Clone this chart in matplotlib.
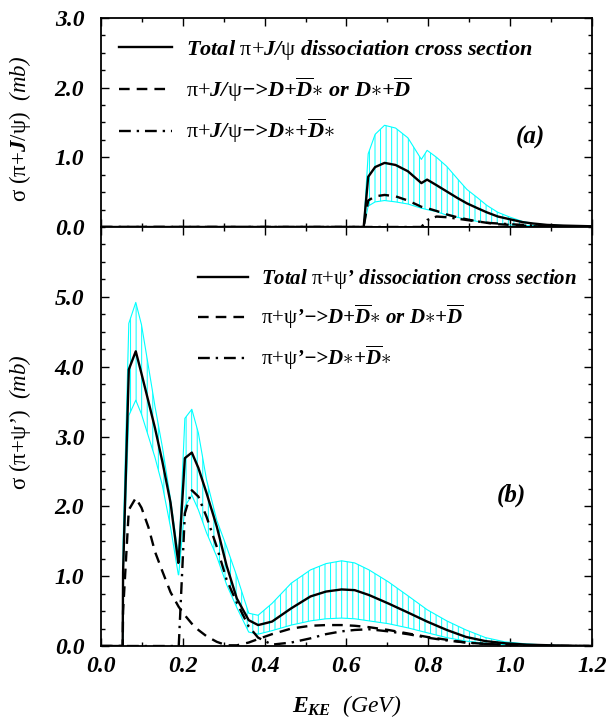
import numpy as np
import matplotlib
matplotlib.use("Agg")
import matplotlib.pyplot as plt
from matplotlib.ticker import MultipleLocator, FixedLocator, NullFormatter

plt.rcParams['font.family'] = ['Liberation Serif', 'DejaVu Serif']
plt.rcParams['font.weight'] = 'bold'
plt.rcParams['font.style'] = 'italic'
plt.rcParams['mathtext.fontset'] = 'custom'
plt.rcParams['mathtext.rm'] = 'Liberation Serif:style=normal:weight=normal'
plt.rcParams['mathtext.it'] = 'Liberation Serif:style=italic:weight=bold'
plt.rcParams['mathtext.bf'] = 'Liberation Serif:style=normal:weight=bold'
plt.rcParams['hatch.linewidth'] = 0.7

CYAN = '#00ffff'

# ---- (a) pi + J/psi ----
x_a = [0.000, 0.642, 0.653, 0.670, 0.693, 0.720, 0.750, 0.783, 0.797, 0.820,
       0.845, 0.870, 0.894, 0.920, 0.943, 0.970, 1.000, 1.030, 1.056, 1.090,
       1.130, 1.200]
total_a = [0.00, 0.00, 0.72, 0.86, 0.92, 0.89, 0.80, 0.63, 0.68, 0.60,
           0.51, 0.42, 0.34, 0.27, 0.21, 0.15, 0.11, 0.07, 0.05, 0.03,
           0.02, 0.01]
upper_a = [0.00, 0.00, 1.05, 1.33, 1.46, 1.42, 1.28, 0.97, 1.10, 1.00,
           0.87, 0.70, 0.54, 0.42, 0.31, 0.21, 0.14, 0.08, 0.05, 0.03,
           0.02, 0.01]
lower_a = [0.00, 0.00, 0.30, 0.36, 0.38, 0.36, 0.33, 0.27, 0.25, 0.22,
           0.17, 0.14, 0.11, 0.08, 0.06, 0.05, 0.03, 0.02, 0.02, 0.01,
           0.01, 0.00]
dd_a = [0.00, 0.00, 0.38, 0.44, 0.46, 0.44, 0.38, 0.29, 0.27, 0.23,
        0.18, 0.14, 0.11, 0.08, 0.06, 0.04, 0.03, 0.02, 0.01, 0.01,
        0.00, 0.00]
dsds_a = [0.00, 0.00, 0.00, 0.00, 0.00, 0.00, 0.00, 0.00, 0.10, 0.15,
          0.14, 0.12, 0.10, 0.08, 0.06, 0.05, 0.04, 0.03, 0.02, 0.01,
          0.01, 0.00]

# ---- (b) pi + psi' ----
x_b = [0.000, 0.053, 0.054, 0.068, 0.085, 0.099, 0.116, 0.132, 0.150, 0.170,
       0.189, 0.190, 0.205, 0.222, 0.238, 0.258, 0.283, 0.307, 0.332, 0.361,
       0.384, 0.418, 0.465, 0.512, 0.550, 0.588, 0.620, 0.655, 0.702, 0.750,
       0.797, 0.845, 0.892, 0.940, 0.987, 1.040, 1.100, 1.200]
total_b = [0.00, 0.00, 1.06, 3.96, 4.22, 3.90, 3.50, 3.12, 2.64, 2.05,
           1.19, 1.25, 2.69, 2.77, 2.55, 2.19, 1.71, 1.15, 0.68, 0.37,
           0.30, 0.35, 0.54, 0.71, 0.78, 0.81, 0.80, 0.73, 0.61, 0.48,
           0.35, 0.23, 0.13, 0.07, 0.04, 0.02, 0.01, 0.00]
upper_b = [0.00, 0.00, 1.49, 4.62, 4.92, 4.60, 4.00, 3.43, 2.85, 2.10,
           1.30, 1.30, 3.26, 3.39, 3.05, 2.38, 1.80, 1.42, 1.00, 0.47,
           0.44, 0.61, 0.90, 1.09, 1.18, 1.22, 1.19, 1.09, 0.92, 0.72,
           0.52, 0.36, 0.23, 0.12, 0.06, 0.03, 0.01, 0.00]
lower_b = [0.00, 0.00, 1.00, 3.30, 3.52, 3.32, 3.00, 2.70, 2.30, 1.70,
           1.02, 1.02, 2.00, 2.16, 1.95, 1.62, 1.28, 0.88, 0.55, 0.20,
           0.17, 0.22, 0.30, 0.36, 0.39, 0.40, 0.39, 0.36, 0.32, 0.26,
           0.19, 0.12, 0.07, 0.04, 0.02, 0.01, 0.00, 0.00]
dd_b = [0.00, 0.00, 0.50, 1.95, 2.12, 1.98, 1.70, 1.35, 1.07, 0.77,
        0.57, 0.56, 0.44, 0.32, 0.23, 0.14, 0.06, 0.01, 0.01, 0.05,
        0.10, 0.17, 0.25, 0.29, 0.30, 0.30, 0.29, 0.27, 0.23, 0.18,
        0.13, 0.09, 0.05, 0.03, 0.02, 0.01, 0.00, 0.00]
dsds_b = [0.00, 0.00, 0.00, 0.00, 0.00, 0.00, 0.00, 0.00, 0.00, 0.00,
          0.00, 0.00, 1.90, 2.23, 2.14, 1.85, 1.42, 0.95, 0.62, 0.28,
          0.12, 0.02, 0.05, 0.11, 0.17, 0.21, 0.23, 0.24, 0.21, 0.17,
          0.12, 0.08, 0.05, 0.03, 0.02, 0.01, 0.00, 0.00]

labels_a = [r"Total $\mathrm{\pi{+}}$J/$\mathrm{\psi}$ dissociation cross section",
            r"$\mathrm{\pi{+}}$J/$\mathrm{\psi}$−>D+$\overline{D}{\ast}$ or D${\ast}$+$\overline{D}$",
            r"$\mathrm{\pi{+}}$J/$\mathrm{\psi}$−>D${\ast}$+$\overline{D}{\ast}$"]
labels_b = [r"Total $\mathrm{\pi{+}\psi}$’ dissociation cross section",
            r"$\mathrm{\pi{+}\psi}$’−>D+$\overline{D}{\ast}$ or D${\ast}$+$\overline{D}$",
            r"$\mathrm{\pi{+}\psi}$’−>D${\ast}$+$\overline{D}{\ast}$"]

DASHED = (0, (4.5, 3))
DASHDOT = (0, (5, 2.5, 1, 2.5))


def draw_panel(ax, x, total, upper, lower, dd, dsds, labels):
    # error band: cyan edges with vertical hatching in between
    ax.fill_between(x, lower, upper, facecolor='none', edgecolor=CYAN,
                    hatch='|||', linewidth=0)
    ax.plot(x, upper, color=CYAN, lw=0.8)
    ax.plot(x, lower, color=CYAN, lw=0.8)
    h1, = ax.plot(x, total, color='k', lw=1.7, label=labels[0])
    h2, = ax.plot(x, dd, color='k', lw=1.7, ls=DASHED, label=labels[1])
    h3, = ax.plot(x, dsds, color='k', lw=1.7, ls=DASHDOT, label=labels[2])
    return [h1, h2, h3]


def style_axes(ax, ymax, ymajor):
    ax.set_xlim(0, 1.2)
    ax.set_ylim(0, ymax)
    ax.xaxis.set_major_locator(MultipleLocator(0.2))
    ax.xaxis.set_minor_locator(MultipleLocator(0.1))
    ax.yaxis.set_major_locator(FixedLocator(ymajor))
    ax.yaxis.set_minor_locator(MultipleLocator(0.25))
    ax.yaxis.set_major_formatter(plt.FormatStrFormatter('%.1f'))
    ax.xaxis.set_major_formatter(plt.FormatStrFormatter('%.1f'))
    ax.tick_params(which='both', direction='in', top=True, right=True, width=1.0)
    ax.tick_params(which='major', length=5.8)
    ax.tick_params(which='minor', length=3.2)
    ax.tick_params(axis='y', labelsize=17, pad=12)
    ax.tick_params(axis='x', labelsize=17, pad=7)
    for s in ax.spines.values():
        s.set_linewidth(1.3)


fig = plt.figure(figsize=(6.08, 7.19), dpi=100)
ax_a = fig.add_axes([0.1661, 0.6843, 0.8076, 0.2907])
ax_b = fig.add_axes([0.1661, 0.1015, 0.8076, 0.5828])

ha = draw_panel(ax_a, x_a, total_a, upper_a, lower_a, dd_a, dsds_a, labels_a)
hb = draw_panel(ax_b, x_b, total_b, upper_b, lower_b, dd_b, dsds_b, labels_b)

style_axes(ax_a, 3.0, [0, 1, 2, 3])
style_axes(ax_b, 6.0, [0, 1, 2, 3, 4, 5])
ax_a.xaxis.set_major_formatter(NullFormatter())

leg_kw = dict(loc='upper left', frameon=False, handlelength=2.4,
              handletextpad=0.63, labelspacing=0.6, borderpad=0, borderaxespad=0)
ax_a.legend(handles=ha, bbox_to_anchor=(0.037, 0.905), fontsize=16, **leg_kw)
ax_b.legend(handles=hb, bbox_to_anchor=(0.198, 0.905), fontsize=15, **leg_kw)

ax_a.text(0.875, 0.43, "(a)", transform=ax_a.transAxes, fontsize=18,
          ha='center', va='center')
ax_b.text(0.835, 0.36, "(b)", transform=ax_b.transAxes, fontsize=18,
          ha='center', va='center')

ax_a.set_ylabel(r"$\mathrm{\sigma\ (\pi{+}}J/\mathrm{\psi)}$  (mb)", fontsize=16.5)
ax_a.yaxis.set_label_coords(-0.139, 0.47)
ax_b.set_ylabel(r"$\mathrm{\sigma\ (\pi{+}\psi}$’$\mathrm{)}$  (mb)", fontsize=16.5)
ax_b.yaxis.set_label_coords(-0.139, 0.535)
ax_b.set_xlabel(r"$E_{KE}$  (GeV)", fontsize=17, labelpad=12)

fig.savefig("out.png", dpi=100)
